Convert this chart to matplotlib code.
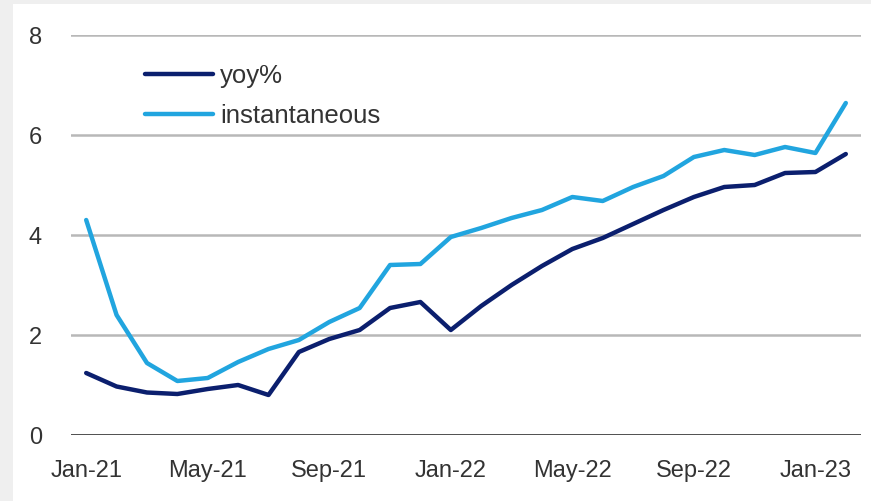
import matplotlib.pyplot as plt
import matplotlib.patches as patches

# Monthly data, Jan-21 .. Feb-23
months = ['Jan-21', 'Feb-21', 'Mar-21', 'Apr-21', 'May-21', 'Jun-21', 'Jul-21', 'Aug-21',
          'Sep-21', 'Oct-21', 'Nov-21', 'Dec-21', 'Jan-22', 'Feb-22', 'Mar-22', 'Apr-22',
          'May-22', 'Jun-22', 'Jul-22', 'Aug-22', 'Sep-22', 'Oct-22', 'Nov-22', 'Dec-22',
          'Jan-23', 'Feb-23']
yoy = [1.24, 0.97, 0.85, 0.82, 0.92, 1.0, 0.8, 1.66, 1.92, 2.1, 2.54, 2.66, 2.1,
       2.58, 3.0, 3.38, 3.72, 3.94, 4.22, 4.5, 4.76, 4.96, 5.0, 5.24, 5.26, 5.62]
instantaneous = [4.3, 2.4, 1.44, 1.08, 1.14, 1.46, 1.72, 1.9, 2.26, 2.54, 3.4, 3.42, 3.96,
                 4.14, 4.34, 4.5, 4.76, 4.68, 4.96, 5.18, 5.56, 5.7, 5.6, 5.76, 5.64, 6.64]
y_ticks = [0, 2, 4, 6, 8]
x_tick_step = 4

plt.rcParams['font.family'] = ['Liberation Sans', 'DejaVu Sans']

fig = plt.figure(figsize=(8.71, 5.01), dpi=100)
fig.patch.set_facecolor('#efefef')
# white canvas, leaving the grey strips on the left and top
fig.patches.append(patches.Rectangle((13 / 871, 0), 1, 1 - 4 / 501, transform=fig.transFigure,
                                     facecolor='white', edgecolor='none', zorder=-10))

ax = fig.add_axes([71 / 871, 66 / 501, 790 / 871, 400 / 501])
ax.set_zorder(1)
ax.set_facecolor('none')

x = list(range(len(months)))
ax.plot(x, yoy, color='#0b1f6e', lw=3.2, label='yoy%', solid_capstyle='round', zorder=3)
ax.plot(x, instantaneous, color='#21a5df', lw=3.2, label='instantaneous',
        solid_capstyle='round', zorder=3)

ax.set_xlim(-0.5, len(months) - 0.5)
ax.set_ylim(0, 8)
for v in y_ticks[1:]:
    ax.axhline(v, color='#b8b8b8', lw=1.8, zorder=1)
ax.axhline(0, color='#1a1a1a', lw=1.8, zorder=2)

for s in ax.spines.values():
    s.set_visible(False)

ax.set_yticks(y_ticks)
ax.set_xticks(x[::x_tick_step])
ax.set_xticklabels(months[::x_tick_step])
ax.tick_params(axis='both', length=0, labelsize=17, labelcolor='#333333')
ax.tick_params(axis='y', pad=21)
ax.tick_params(axis='x', pad=18)

leg = ax.legend(loc='upper left', bbox_to_anchor=(145 / 871, 1 - 64 / 501),
                bbox_transform=fig.transFigure, frameon=False, fontsize=18.5,
                handlelength=2.65, handletextpad=0.28, labelspacing=0.62,
                borderpad=0, borderaxespad=0)
for t in leg.get_texts():
    t.set_color('#333333')

fig.savefig('out.png', dpi=100)
